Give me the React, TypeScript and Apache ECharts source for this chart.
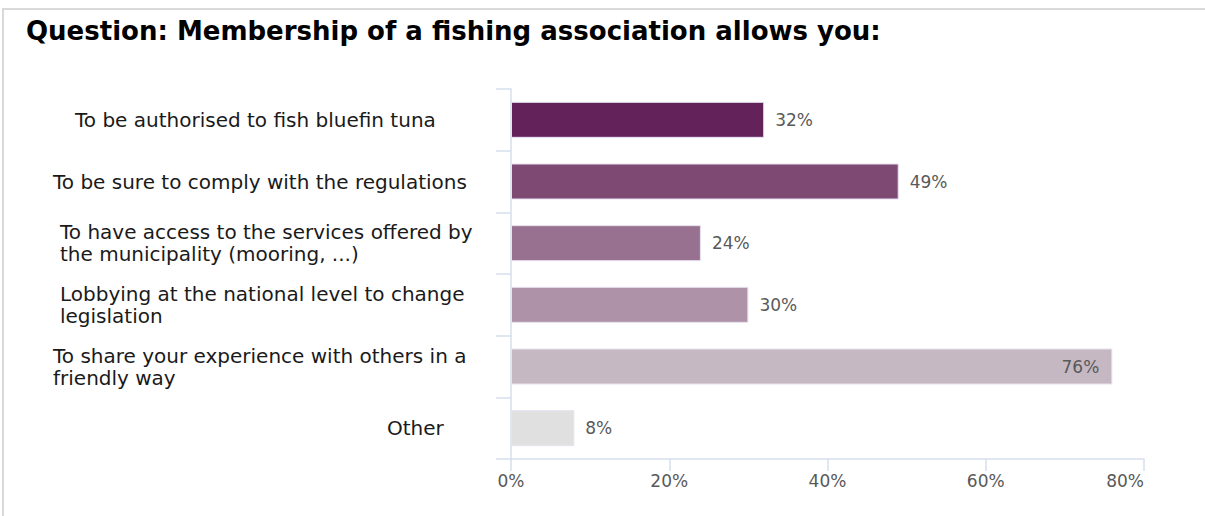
import React, { useEffect, useRef } from "react";
import * as echarts from "echarts";

const categories = [
  "To be authorised to fish bluefin tuna",
  "To be sure to comply with the regulations",
  "To have access to the services offered by\nthe municipality (mooring, ...)",
  "Lobbying at the national level to change\nlegislation",
  "To share your experience with others in a\nfriendly way",
  "Other",
];
const values = [32, 49, 24, 30, 76, 8];
const barColors = ["#63235A", "#7E4A74", "#97718F", "#AE93A8", "#C5B8C3", "#DFE0DF"];
const xTicks = [0, 20, 40, 60, 80];
const labelOffsets = [20, -2, 5, 5, -2, 332];

export default function App() {
  const ref = useRef<HTMLDivElement>(null);
  useEffect(() => {
    const chart = echarts.init(ref.current!, null, { renderer: "svg" });
    const rich: Record<string, any> = {};
    labelOffsets.forEach((o, i) => {
      rich["a" + i] = {
        fontFamily: "DejaVu Sans",
        fontSize: 20,
        lineHeight: 22,
        color: "#1a1a1a",
        padding: [0, 0, 0, o],
      };
    });
    chart.setOption({
      animation: false,
      backgroundColor: "#ffffff",
      title: {
        text: "Question: Membership of a fishing association allows you:",
        left: 21,
        top: 13,
        textStyle: { fontFamily: "DejaVu Sans", fontWeight: "bold", fontSize: 26, color: "#000" },
      },
      graphic: [
        {
          type: "rect",
          shape: { x: 3, y: 9, width: 1210, height: 520 },
          style: { fill: "none", stroke: "#D9D9D9", lineWidth: 2 },
          silent: true,
          z: -1,
        },
      ],
      grid: { left: 511, right: 61, top: 89, bottom: 57, containLabel: false },
      xAxis: {
        type: "value",
        min: xTicks[0],
        max: xTicks[xTicks.length - 1],
        interval: 20,
        axisLine: { show: true, lineStyle: { color: "#D6DEEE", width: 1.5 } },
        axisTick: { show: true, length: 12, lineStyle: { color: "#D6DEEE", width: 1.5 } },
        splitLine: { show: false },
        axisLabel: {
          formatter: "{value}%",
          color: "#595959",
          fontFamily: "DejaVu Sans",
          fontSize: 17,
          margin: 13,
          alignMaxLabel: "right",
        },
      },
      yAxis: {
        type: "category",
        inverse: true,
        data: categories,
        axisLine: { show: true, lineStyle: { color: "#D6DEEE", width: 1.5 } },
        axisTick: { show: true, length: 15, alignWithLabel: false, lineStyle: { color: "#D6DEEE", width: 1.5 } },
        axisLabel: {
          align: "left",
          margin: 456,
          formatter: (v: string, i: number) =>
            v
              .split("\n")
              .map((line) => `{a${i}|${line}}`)
              .join("\n"),
          rich,
        },
      },
      series: [
        {
          type: "bar",
          barWidth: 36,
          data: values.map((v, i) => ({
            value: v,
            itemStyle: { color: barColors[i], borderColor: "#E6E1F0", borderWidth: 1 },
            label:
              i === 4
                ? { position: "insideRight", distance: 13 }
                : { position: "right", distance: 11 },
          })),
          label: {
            show: true,
            formatter: "{c}%",
            color: "#595959",
            fontFamily: "DejaVu Sans",
            fontSize: 17,
          },
        },
      ],
    });
    return () => chart.dispose();
  }, []);
  return (
    <div
      ref={ref}
      style={{ position: "fixed", left: 0, top: 0, width: 1205, height: 516 }}
    />
  );
}
